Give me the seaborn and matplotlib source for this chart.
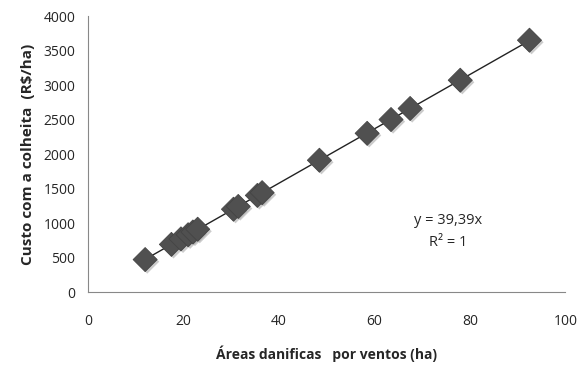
import numpy as np
import pandas as pd
import matplotlib
matplotlib.use("Agg")
import matplotlib.pyplot as plt
import matplotlib.patheffects as pe
import seaborn as sns

area = [12, 17.5, 19.5, 21, 22, 23, 30.5, 31.5, 35.5, 36.5, 48.5, 58.5, 63.5, 67.5, 78, 92.5]
custo = [470, 690, 770, 830, 870, 910, 1200, 1240, 1400, 1440, 1910, 2300, 2500, 2660, 3070, 3650]
x_ticks = [0, 20, 40, 60, 80, 100]
y_ticks = [0, 500, 1000, 1500, 2000, 2500, 3000, 3500, 4000]

df = pd.DataFrame({"area": area, "custo": custo})

sns.set_style("white")
plt.rcParams["font.family"] = ["Open Sans", "DejaVu Sans"]

fig = plt.figure(figsize=(5.78, 3.65), dpi=100)
ax = fig.add_axes([0.152, 0.2, 0.826, 0.756])

# trend line through origin (least squares)
xa = np.array(area, dtype=float)
ya = np.array(custo, dtype=float)
slope = (xa * ya).sum() / (xa * xa).sum()
xl = np.array([xa.min(), xa.max()])
ax.plot(xl, slope * xl, color="#222222", lw=1.0, zorder=2)

sns.scatterplot(data=df, x="area", y="custo", marker="D", s=150,
                color="#505050", edgecolor="#444444", linewidth=0.6,
                ax=ax, zorder=3)
for coll in ax.collections:
    coll.set_path_effects([pe.SimplePatchShadow(offset=(1.5, -1.5), shadow_rgbFace="#999999", alpha=0.5), pe.Normal()])

ax.set_xlim(0, 100)
ax.set_ylim(0, 4000)
ax.set_xticks(x_ticks)
ax.set_yticks(y_ticks)
ax.tick_params(axis="both", labelsize=10, colors="#888888", labelcolor="#262626",
               direction="out", length=4, width=0.8, pad=5)
ax.tick_params(axis="x", pad=12)
for s in ["top", "right"]:
    ax.spines[s].set_visible(False)
for s in ["left", "bottom"]:
    ax.spines[s].set_color("#888888")
    ax.spines[s].set_linewidth(0.8)

ax.set_xlabel("Áreas danificas   por ventos (ha)", fontsize=10, fontweight="bold", labelpad=12)
ax.set_ylabel("Custo com a colheita  (R$/ha)", fontsize=11, fontweight="bold", labelpad=6)

ax.text(0.755, 0.26, "y = 39,39x", transform=ax.transAxes, ha="center", va="center", fontsize=10.5, color="#262626")
ax.text(0.755, 0.18, "R² = 1", transform=ax.transAxes, ha="center", va="center", fontsize=10.5, color="#262626")

fig.savefig("out.png", dpi=100)
